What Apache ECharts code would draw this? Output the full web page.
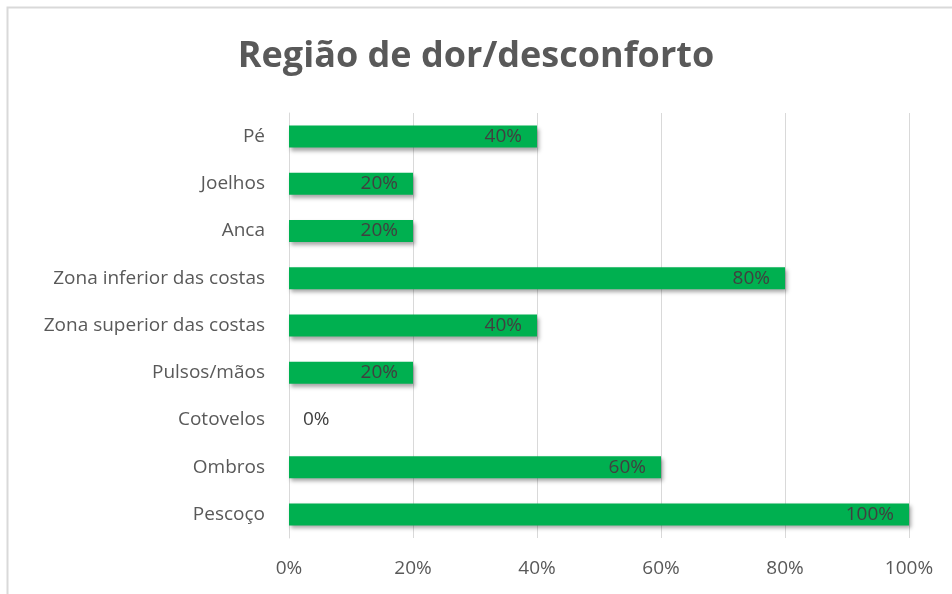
<!DOCTYPE html>
<html lang="pt">
<head>
	<meta charset="UTF-8">
	<title>Região de dor/desconforto</title>
	<style>
		html, body { margin: 0; padding: 0; background: #fff; }
		#container { width: 952px; height: 594px; }
	</style>
</head>
<body>
	<div id="container"></div>
	<script src="https://cdn.jsdelivr.net/npm/echarts@6/dist/echarts.min.js"></script>
	<script>
		// bottom to top, as the axis draws them
		var categories = ['Pescoço', 'Ombros', 'Cotovelos', 'Pulsos/mãos', 'Zona superior das costas',
			'Zona inferior das costas', 'Anca', 'Joelhos', 'Pé'];
		var values = [100, 60, 0, 20, 40, 80, 20, 20, 40];
		var tickLabels = ['0%', '20%', '40%', '60%', '80%', '100%'];

		var myChart = echarts.init(document.getElementById('container'));
		var font = '"Open Sans", "Noto Sans", sans-serif';

		var seriesData = values.map(function(v) {
			if (v === 0) {
				return { value: v, label: { position: 'right', distance: 14, color: '#404040' } };
			}
			return v;
		});

		var option = {
			animation: false,
			title: {
				text: 'Região de dor/desconforto',
				left: 'center',
				top: 34,
				textStyle: { fontFamily: font, fontSize: 36, fontWeight: 'bold', color: '#595959' }
			},
			graphic: [{
				type: 'rect',
				shape: { x: 7.5, y: 7.5, width: 960, height: 600 },
				style: { fill: 'none', stroke: '#d9d9d9', lineWidth: 2 }
			}],
			grid: {
				left: 289,
				right: 43,
				top: 113,
				bottom: 56
			},
			xAxis: {
				type: 'value',
				min: 0,
				max: 100,
				interval: 20,
				axisLine: { show: false },
				axisTick: { show: false },
				splitLine: { lineStyle: { color: '#d9d9d9', width: 1 } },
				axisLabel: {
					margin: 21,
					fontFamily: font,
					fontSize: 19,
					color: '#595959',
					formatter: function(v) { return tickLabels[v / 20]; }
				}
			},
			yAxis: {
				type: 'category',
				data: categories,
				axisLine: { show: true, lineStyle: { color: '#d9d9d9' } },
				axisTick: { show: false },
				axisLabel: { margin: 24, fontFamily: font, fontSize: 19, color: '#595959' }
			},
			series: [{
				type: 'bar',
				data: seriesData,
				barWidth: 22,
				itemStyle: {
					color: '#00B050',
					shadowColor: 'rgba(0,0,0,0.35)',
					shadowBlur: 4,
					shadowOffsetX: 2,
					shadowOffsetY: 3
				},
				label: {
					show: true,
					position: 'insideRight',
					distance: 15,
					fontFamily: font,
					fontSize: 19,
					color: '#404040',
					formatter: function(p) { return p.value + '%'; }
				}
			}]
		};

		myChart.setOption(option);
	</script>
</body>
</html>
